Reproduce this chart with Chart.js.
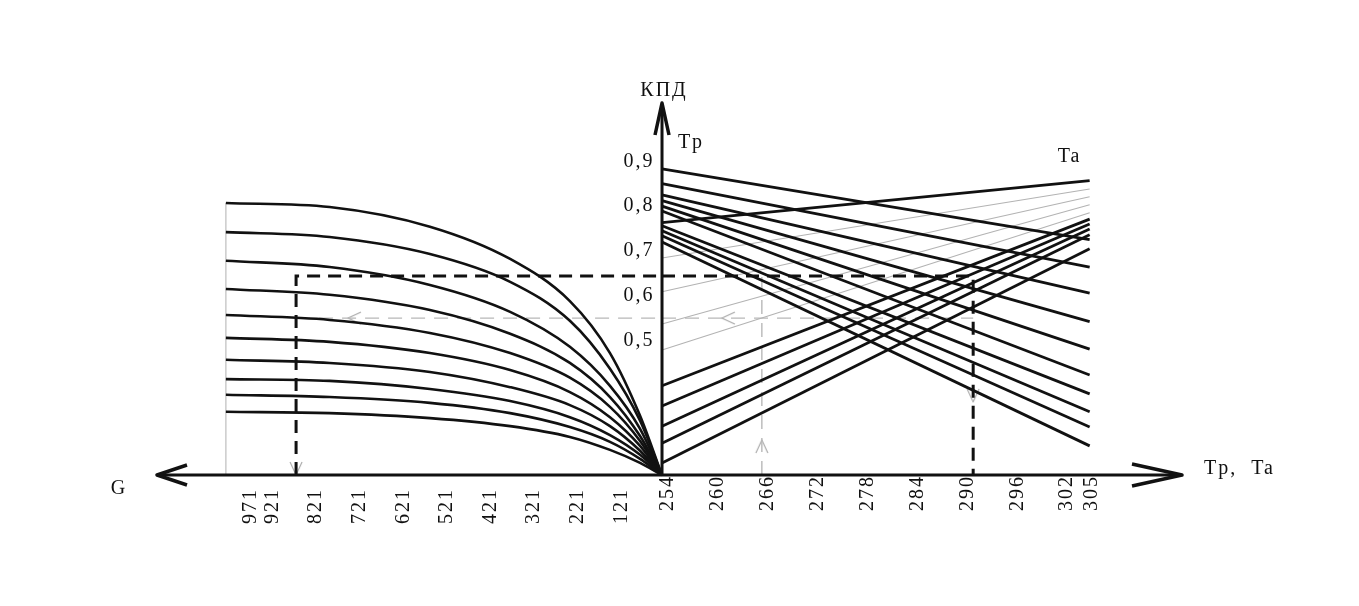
<!DOCTYPE html>
<html>
<head>
<meta charset="utf-8">
<script src="https://cdn.jsdelivr.net/npm/chart.js@4.4.1/dist/chart.umd.min.js"></script>
<style>
  html, body { margin: 0; background: #fff; }
</style>
</head>
<body>
<canvas id="nomo" width="1359" height="606"></canvas>
<script>
// tick labels on the axes
const gTicks = [971, 921, 821, 721, 621, 521, 421, 321, 221, 121];
const tTicks = [254, 260, 266, 272, 278, 284, 290, 296, 302, 305];
const kpdTicks = [0.5, 0.6, 0.7, 0.8, 0.9];
const kpdLabels = ["0,5", "0,6", "0,7", "0,8", "0,9"];

// left part: КПД over G, one row per curve
const gPts = [1028, 790, 560, 376, 239, 147, 78, 28];
const curvesG = [
  [0.807, 0.798, 0.754, 0.682, 0.588, 0.472, 0.332, 0.2],
  [0.742, 0.731, 0.693, 0.631, 0.544, 0.437, 0.321, 0.2],
  [0.678, 0.664, 0.624, 0.564, 0.486, 0.399, 0.303, 0.2],
  [0.615, 0.602, 0.568, 0.515, 0.450, 0.374, 0.287, 0.2],
  [0.557, 0.546, 0.517, 0.472, 0.417, 0.352, 0.276, 0.2],
  [0.506, 0.497, 0.472, 0.434, 0.385, 0.329, 0.265, 0.2],
  [0.457, 0.450, 0.430, 0.396, 0.356, 0.309, 0.254, 0.2],
  [0.414, 0.410, 0.392, 0.365, 0.329, 0.289, 0.245, 0.2],
  [0.379, 0.374, 0.361, 0.338, 0.307, 0.274, 0.236, 0.2],
  [0.341, 0.338, 0.327, 0.309, 0.285, 0.256, 0.227, 0.2]
];

// right part: straight lines from T at the axis to T at the end
const tPts = [253.3, 304.7];
const tpLines = [
  [0.883, 0.725], [0.850, 0.664], [0.825, 0.606], [0.812, 0.542], [0.800, 0.481],
  [0.789, 0.423], [0.756, 0.381], [0.745, 0.341], [0.734, 0.307], [0.720, 0.265]
];
const taLines = [
  [0.763, 0.857], [0.399, 0.771], [0.354, 0.760], [0.309, 0.749], [0.271, 0.736], [0.227, 0.705]
];
const helperLines = [[0.684, 0.838], [0.609, 0.821], [0.537, 0.803], [0.479, 0.785]];

// worked example on the nomogram
const axisG = 28, axisT = 253.3, kpdBase = 0.2;
const pickG = 867, pickT = 290.7, pickKpd = 0.644;
const readT = 265.3, readKpd = 0.55;
const edgeG = 1028, edgeKpd = 0.807;

const fontFam = '"Liberation Serif", "Times New Roman", serif';

function chevron(color, len, half, lw) {
  const c = document.createElement("canvas");
  const s = Math.ceil(len * 2 + lw * 4);
  c.width = s; c.height = s;
  const g = c.getContext("2d");
  g.strokeStyle = color; g.lineWidth = lw; g.lineJoin = "round";
  g.beginPath();
  g.moveTo(s / 2 - len, s / 2 - half);
  g.lineTo(s / 2, s / 2);
  g.lineTo(s / 2 - len, s / 2 + half);
  g.stroke();
  return c;
}
const grayArrow = chevron("#a8a8a8", 13, 6, 1.3);

const line = (axis, pts, color, width, dash) => ({
  type: "scatter",
  showLine: true,
  xAxisID: axis,
  yAxisID: "y",
  data: pts,
  borderColor: color,
  borderWidth: width,
  borderDash: dash || [],
  pointRadius: 0,
  pointHoverRadius: 0,
  clip: false,
  fill: false
});

const datasets = [];
curvesG.forEach(c => {
  const d = line("xG", gPts.map((g, i) => ({ x: g, y: c[i] })), "#111", 2.6);
  d.cubicInterpolationMode = "monotone";
  datasets.push(d);
});
tpLines.concat(taLines).forEach(l => {
  datasets.push(line("xT", tPts.map((t, i) => ({ x: t, y: l[i] })), "#111", 2.8));
});
// black dashed route
datasets.push(line("xG", [{ x: pickG, y: kpdBase }, { x: pickG, y: pickKpd }, { x: axisG, y: pickKpd }], "#111", 3, [13, 8]));
datasets.push(line("xT", [{ x: axisT, y: pickKpd }, { x: pickT, y: pickKpd }, { x: pickT, y: kpdBase }], "#111", 3, [13, 8]));
// gray helpers
helperLines.forEach(l => {
  datasets.push(line("xT", tPts.map((t, i) => ({ x: t, y: l[i] })), "#b3b3b3", 1.1));
});
datasets.push(line("xG", [{ x: pickG, y: readKpd }, { x: axisG, y: readKpd }], "#b8b8b8", 1.4, [14, 9]));
datasets.push(line("xT", [{ x: axisT, y: readKpd }, { x: pickT, y: readKpd }], "#b8b8b8", 1.4, [14, 9]));
datasets.push(line("xT", [{ x: readT, y: kpdBase }, { x: readT, y: pickKpd }], "#b8b8b8", 1.4, [14, 9]));
datasets.push(line("xG", [{ x: edgeG, y: kpdBase }, { x: edgeG, y: edgeKpd }], "#bdbdbd", 1.2));
// small gray arrow marks
datasets.push({
  type: "scatter", xAxisID: "xG", yAxisID: "y", clip: false,
  data: [{ x: 748, y: readKpd }, { x: pickG, y: kpdBase }],
  pointStyle: grayArrow, rotation: [180, 90], pointRadius: 8, pointHoverRadius: 8
});
datasets.push({
  type: "scatter", xAxisID: "xT", yAxisID: "y", clip: false,
  data: [{ x: 260.5, y: readKpd }, { x: readT, y: 0.278 }, { x: pickT, y: 0.363 }],
  pointStyle: grayArrow, rotation: [180, -90, 90], pointRadius: 8, pointHoverRadius: 8
});

const tickFont = { family: fontFam, size: 20 };

const axesPlugin = {
  id: "axes",
  beforeDraw(chart) {
    chart.ctx.letterSpacing = "2px";
  },
  afterDatasetsDraw(chart) {
    const { ctx, chartArea: a, scales } = chart;
    const y0 = scales.y.getPixelForValue(kpdBase);
    const xc = scales.xT.getPixelForValue(axisT);
    ctx.save();
    ctx.strokeStyle = "#111";
    ctx.lineWidth = 3;
    ctx.beginPath();
    ctx.moveTo(a.left + 2, y0); ctx.lineTo(a.right - 2, y0);
    ctx.moveTo(xc, y0); ctx.lineTo(xc, a.top + 2);
    ctx.stroke();
    ctx.lineWidth = 3.5;
    ctx.lineJoin = "round";
    ctx.beginPath();
    ctx.moveTo(a.left + 30, y0 - 10); ctx.lineTo(a.left, y0); ctx.lineTo(a.left + 30, y0 + 10);
    ctx.moveTo(a.right - 50, y0 - 11); ctx.lineTo(a.right, y0); ctx.lineTo(a.right - 50, y0 + 11);
    ctx.moveTo(xc - 7, a.top + 32); ctx.lineTo(xc, a.top); ctx.lineTo(xc + 7, a.top + 32);
    ctx.stroke();

    ctx.fillStyle = "#111";
    ctx.font = "20px " + fontFam;
    ctx.textBaseline = "middle";
    ctx.textAlign = "center";
    ctx.fillText("КПД", xc + 2, a.top - 12);
    ctx.fillText("Tp", xc + 29, a.top + 40);
    ctx.fillText("Ta", scales.xT.getPixelForValue(tPts[1]) - 20, a.top + 54);
    ctx.fillText("G", a.left - 38, y0 + 14);
    ctx.textAlign = "left";
    ctx.fillText("Tp,  Ta", a.right + 22, y0 - 6);
    ctx.restore();
  }
};

new Chart(document.getElementById("nomo"), {
  type: "scatter",
  data: { datasets },
  options: {
    responsive: false,
    animation: false,
    events: [],
    layout: { padding: { left: 157, right: 177, top: 103, bottom: 131 } },
    plugins: { legend: { display: false }, tooltip: { enabled: false } },
    elements: { line: { borderCapStyle: "butt" } },
    scales: {
      xG: {
        type: "linear", axis: "x", reverse: true, min: -1165, max: 1186,
        position: { y: kpdBase },
        grid: { display: false, drawTicks: false }, border: { display: false },
        afterBuildTicks: s => { s.ticks = gTicks.map(v => ({ value: v })); },
        ticks: {
          autoSkip: false, minRotation: 90, maxRotation: 90, padding: 13,
          color: "#111", font: tickFont, callback: v => String(v)
        }
      },
      xT: {
        type: "linear", axis: "x", min: 192.6, max: 315.8,
        position: { y: kpdBase },
        grid: { display: false, drawTicks: false }, border: { display: false },
        afterBuildTicks: s => { s.ticks = tTicks.map(v => ({ value: v })); },
        ticks: {
          autoSkip: false, minRotation: 90, maxRotation: 90, padding: 0,
          color: "#111", font: tickFont, callback: v => String(v)
        }
      },
      y: {
        type: "linear", axis: "y", min: kpdBase, max: 1.03,
        position: { xT: 252.4 },
        grid: { display: false, drawTicks: false }, border: { display: false },
        afterBuildTicks: s => { s.ticks = kpdTicks.map(v => ({ value: v })); },
        ticks: {
          autoSkip: false, color: "#111", font: tickFont,
          callback: v => kpdLabels[kpdTicks.indexOf(v)]
        }
      }
    }
  },
  plugins: [axesPlugin]
});
</script>
</body>
</html>
